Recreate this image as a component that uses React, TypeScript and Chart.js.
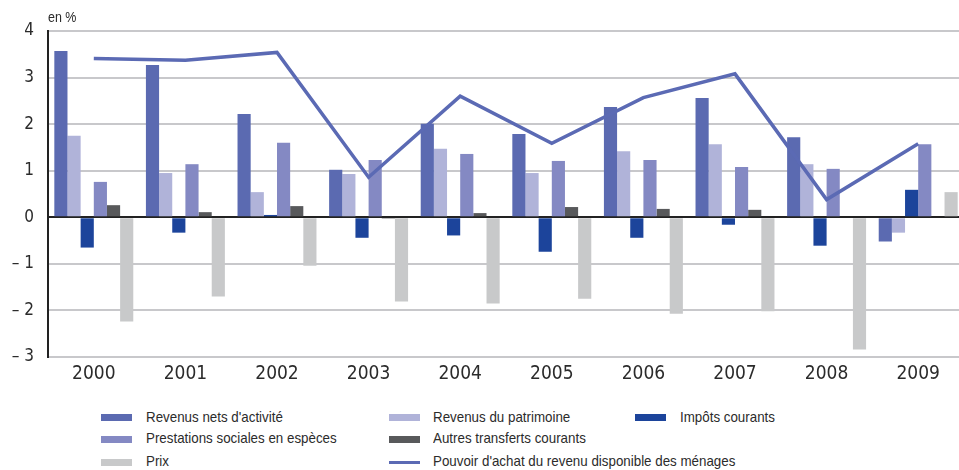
import React, { useEffect, useRef } from "react";
import { Chart, registerables } from "chart.js";

Chart.register(...registerables);

const years = ["2000", "2001", "2002", "2003", "2004", "2005", "2006", "2007", "2008", "2009"];

const revenusNets = [3.57, 3.27, 2.22, 1.02, 2.01, 1.79, 2.37, 2.56, 1.72, -0.52];
const revenusPatrimoine = [1.75, 0.95, 0.54, 0.93, 1.47, 0.95, 1.42, 1.57, 1.14, -0.33];
const impots = [-0.65, -0.33, 0.05, -0.44, -0.39, -0.74, -0.44, -0.16, -0.61, 0.59];
const prestations = [0.76, 1.14, 1.6, 1.23, 1.36, 1.21, 1.23, 1.08, 1.04, 1.57];
const autresTransferts = [0.26, 0.11, 0.24, -0.03, 0.09, 0.22, 0.18, 0.16, 0, 0];
const prix = [-2.24, -1.7, -1.04, -1.81, -1.85, -1.75, -2.07, -2.02, -2.84, 0.54];
const pouvoirAchat = [3.41, 3.37, 3.54, 0.86, 2.6, 1.59, 2.57, 3.08, 0.38, 1.58];

const yTicks = [-3, -2, -1, 0, 1, 2, 3, 4];

const labelNets = "Revenus nets d'activité";
const labelPatrimoine = "Revenus du patrimoine";
const labelImpots = "Impôts courants";
const labelPrestations = "Prestations sociales en espèces";
const labelAutres = "Autres transferts courants";
const labelPrix = "Prix";
const labelPouvoir = "Pouvoir d'achat du revenu disponible des ménages";

const C_NETS = "#5b6ab1";
const C_PATR = "#b0b3d9";
const C_IMP = "#1c449b";
const C_PREST = "#8489c3";
const C_AUTRES = "#58595b";
const C_PRIX = "#c8c9ca";
const C_LINE = "#5b6ab4";

const FONT = "'DejaVu Sans Condensed', 'Liberation Sans', sans-serif";
const HTML_FONT = "'Liberation Sans', Arial, sans-serif";

const legendItems = [
  { label: labelNets, color: C_NETS, kind: "box", x: 101, tx: 146, row: 0 },
  { label: labelPatrimoine, color: C_PATR, kind: "box", x: 389, tx: 433, row: 0 },
  { label: labelImpots, color: C_IMP, kind: "box", x: 635, tx: 680, row: 0 },
  { label: labelPrestations, color: C_PREST, kind: "box", x: 101, tx: 146, row: 1 },
  { label: labelAutres, color: C_AUTRES, kind: "box", x: 389, tx: 433, row: 1 },
  { label: labelPrix, color: C_PRIX, kind: "box", x: 101, tx: 146, row: 2 },
  { label: labelPouvoir, color: C_LINE, kind: "line", x: 389, tx: 433, row: 2 },
];
const rowTextTop = [409, 430, 453];
const rowBoxCenter = [417.5, 439.5, 462.5];

export default function App() {
  const ref = useRef<HTMLCanvasElement | null>(null);

  useEffect(() => {
    document.body.style.margin = "0";
    document.body.style.overflow = "hidden";
    const canvas = ref.current;
    if (!canvas) return;
    const chart = new Chart(canvas, {
      type: "bar",
      data: {
        labels: years,
        datasets: [
          { type: "line", label: labelPouvoir, data: pouvoirAchat, borderColor: C_LINE, backgroundColor: C_LINE, borderWidth: 3.5, pointRadius: 0, tension: 0, order: 0 } as any,
          { label: labelNets, data: revenusNets, backgroundColor: C_NETS, order: 1 },
          { label: labelPatrimoine, data: revenusPatrimoine, backgroundColor: C_PATR, order: 1 },
          { label: labelImpots, data: impots, backgroundColor: C_IMP, order: 1 },
          { label: labelPrestations, data: prestations, backgroundColor: C_PREST, order: 1 },
          { label: labelAutres, data: autresTransferts, backgroundColor: C_AUTRES, order: 1 },
          { label: labelPrix, data: prix, backgroundColor: C_PRIX, order: 1 },
        ],
      },
      options: {
        responsive: false,
        animation: false,
        maintainAspectRatio: false,
        layout: { padding: { top: 31, left: 0, right: 0, bottom: 0 } },
        datasets: { bar: { categoryPercentage: 0.862, barPercentage: 1 } },
        plugins: { legend: { display: false }, tooltip: { enabled: false }, title: { display: false } },
        scales: {
          x: {
            grid: { display: false, drawTicks: false },
            border: { display: false },
            ticks: { color: "#2b2b2b", font: { family: FONT, size: 19 }, padding: 6, maxRotation: 0 },
            afterFit: (s: any) => { s.height = 35; },
          },
          y: {
            min: -3,
            max: 4,
            afterBuildTicks: (s: any) => { s.ticks = yTicks.map((v) => ({ value: v })); },
            grid: {
              drawTicks: false,
              color: (c: any) => (c.tick && c.tick.value === 0 ? "#222222" : "#c8c8cb"),
              lineWidth: 2,
            },
            border: { display: true, color: "#222222", width: 2 },
            ticks: {
              color: "#2b2b2b",
              font: { family: FONT, size: 17 },
              padding: 14,
              callback: (v: any) => (Number(v) < 0 ? "\u2013 " + Math.abs(Number(v)) : String(v)),
            },
            afterFit: (s: any) => { s.width = 48; },
          },
        },
      },
    });
    return () => chart.destroy();
  }, []);

  const textStyle = (left: number, top: number, size: number): React.CSSProperties => ({
    position: "absolute",
    left,
    top,
    fontFamily: HTML_FONT,
    fontSize: size,
    lineHeight: size + "px",
    color: "#2b2b2b",
    whiteSpace: "nowrap",
    transform: "scaleX(0.89)",
    transformOrigin: "0 0",
  });

  return (
    <div style={{ position: "relative", width: 959, height: 470, overflow: "hidden", background: "#fff" }}>
      <canvas ref={ref} width={964} height={392} style={{ position: "absolute", left: 0, top: 0, width: 964, height: 392 }} />
      <div style={textStyle(48, 10, 14)}>en %</div>
      {legendItems.map((it) => {
        const h = it.kind === "box" ? 7 : 3.5;
        return (
          <React.Fragment key={it.label}>
            <div
              style={{
                position: "absolute",
                left: it.x,
                top: rowBoxCenter[it.row] - h / 2,
                width: 31,
                height: h,
                background: it.color,
              }}
            />
            <div style={textStyle(it.tx, rowTextTop[it.row], 15)}>{it.label}</div>
          </React.Fragment>
        );
      })}
    </div>
  );
}
